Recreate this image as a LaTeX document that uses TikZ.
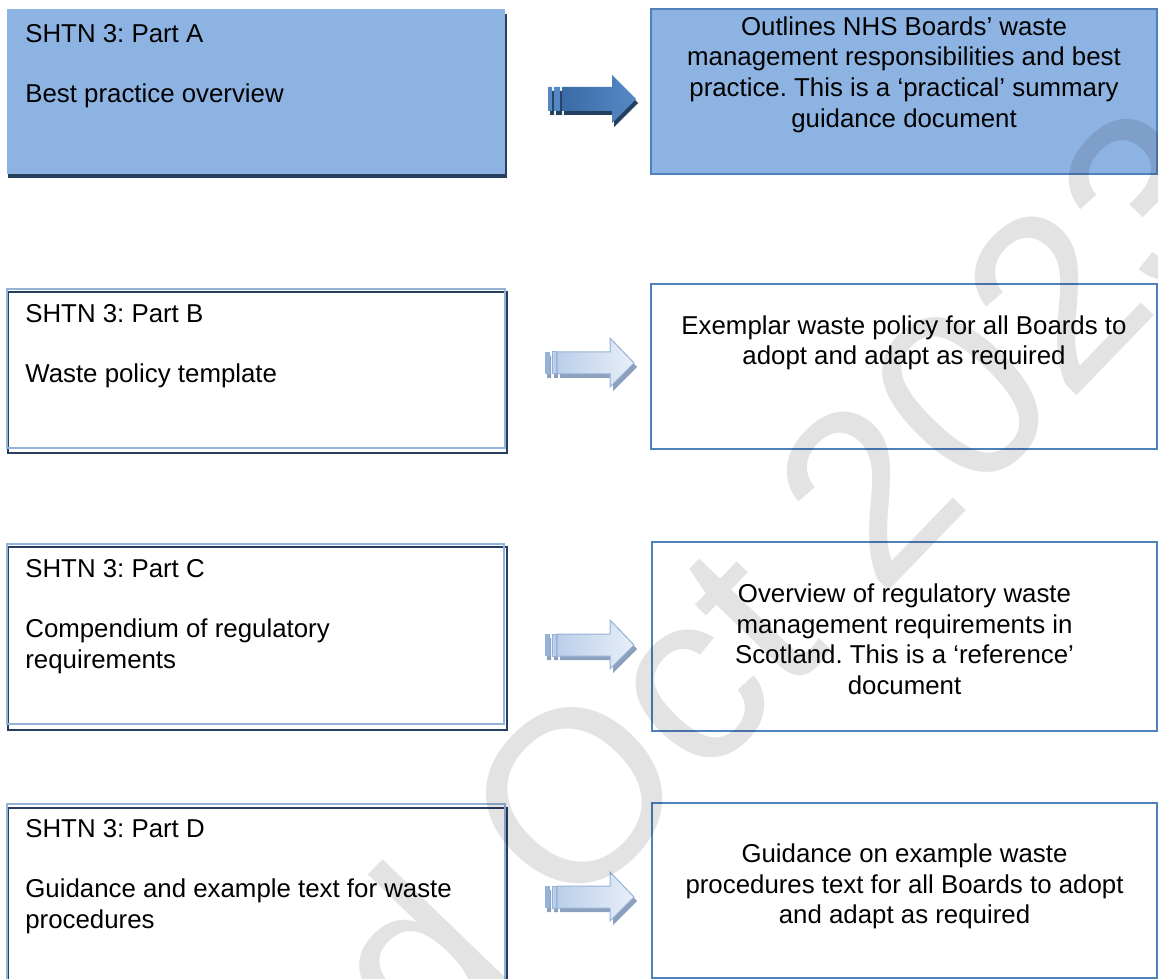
\documentclass[tikz,border=0pt]{standalone}
\usepackage{fontspec}
\setmainfont{Liberation Sans}
\frenchspacing

\definecolor{boxblue}{HTML}{8DB3E2}
\definecolor{edgeblue}{HTML}{4F81BD}
\definecolor{paleedge}{HTML}{95B3D7}
\definecolor{navy}{HTML}{243F60}
\definecolor{arrowdark}{HTML}{3A6BA6}
\definecolor{arrowmid}{HTML}{5589C6}
\definecolor{arrowpale}{HTML}{BACFEA}
\definecolor{arrowlight}{HTML}{E8EFF8}
\definecolor{arrowshade}{HTML}{8C9FBC}

\tikzset{
  partbox/.style={draw=paleedge, line width=0.4mm, anchor=north west, inner sep=0pt},
  sumbox/.style={draw=edgeblue, line width=0.4mm, anchor=north west, inner sep=0pt},
  txt/.style={inner sep=0pt, font=\fontsize{14.7}{17.6}\selectfont},
}

\begin{document}
\begin{tikzpicture}[x=0.2mm, y=-0.2mm]
  \useasboundingbox (0,0) rectangle (1158,979);
  \clip (0,0) rectangle (1158,979);

  % left column: the four parts
  \fill[navy] (8,14) rectangle (507,178);
  \node[partbox, draw=none, fill=boxblue, minimum width=99.6mm, minimum height=33mm] (partA) at (6,8) {};

  \draw[navy, line width=0.4mm] (8,292) rectangle (507,453);
  \node[partbox, minimum width=99.6mm, minimum height=31.8mm] (partB) at (6,288) {};

  \draw[navy, line width=0.4mm] (8,547) rectangle (507,730);
  \node[partbox, minimum width=99.4mm, minimum height=36mm] (partC) at (6,543) {};

  \draw[navy, line width=0.4mm] (8,808) rectangle (507,1000);
  \node[partbox, minimum width=99.6mm, minimum height=39mm] (partD) at (6,803) {};

  % right column: what each part is
  \node[sumbox, fill=boxblue, minimum width=101.2mm, minimum height=33mm] (sumA) at (650,8) {};
  \node[sumbox, minimum width=101.2mm, minimum height=33mm] (sumB) at (650,283) {};
  \node[sumbox, minimum width=101mm, minimum height=37.8mm] (sumC) at (651,541) {};
  \node[sumbox, minimum width=101mm, minimum height=35mm] (sumD) at (651,802) {};

  % texts
  \node[txt, anchor=north west, align=left] (partA-txt) at ([shift={(19,16)}]partA.north west)
    {SHTN 3: Part A\\[16.5pt]Best practice overview};
  \node[txt, anchor=north west, align=left] (partB-txt) at ([shift={(19,16)}]partB.north west)
    {SHTN 3: Part B\\[16.5pt]Waste policy template};
  \node[txt, anchor=north west, align=left] (partC-txt) at ([shift={(19,16)}]partC.north west)
    {SHTN 3: Part C\\[16.5pt]Compendium of regulatory\\requirements};
  \node[txt, anchor=north west, align=left] (partD-txt) at ([shift={(19,16)}]partD.north west)
    {SHTN 3: Part D\\[16.5pt]Guidance and example text for waste\\procedures};

  \node[txt, anchor=north, align=center] (sumA-txt) at ([shift={(0,8)}]sumA.north)
    {Outlines NHS Boards’ waste\\management responsibilities and best\\practice. This is a ‘practical’ summary\\guidance document};
  \node[txt, anchor=north, align=center] (sumB-txt) at ([shift={(0,32)}]sumB.north)
    {Exemplar waste policy for all Boards to\\adopt and adapt as required};
  \node[txt, anchor=north, align=center] (sumC-txt) at ([shift={(0,42)}]sumC.north)
    {Overview of regulatory waste\\management requirements in\\Scotland. This is a ‘reference’\\document};
  \node[txt, anchor=north, align=center] (sumD-txt) at ([shift={(0,41)}]sumD.north)
    {Guidance on example waste\\procedures text for all Boards to adopt\\and adapt as required};

  % dark arrow for part A
  \begin{scope}[shift={(0,99)}]
    \fill[navy] (564,-8) -- (614,-8) -- (614,-20) -- (638,4) -- (614,28) -- (614,16) -- (564,16) -- cycle;
    \fill[navy] (550,-8) rectangle (554,16) (556,-8) rectangle (562,16);
    \shade[left color=arrowdark, right color=arrowmid] (562,-12) -- (612,-12) -- (612,-24) -- (636,0)
      -- (612,24) -- (612,12) -- (562,12) -- cycle;
    \fill[arrowmid] (548,-12) rectangle (552,12) (554,-12) rectangle (560,12);
  \end{scope}

  % pale arrows for parts B, C and D
  \foreach \c in {363,645,897} {
    \begin{scope}[shift={(0,\c)}]
      \fill[arrowshade] (560,-7) -- (613,-7) -- (613,-21) -- (637,4) -- (613,28) -- (613,15) -- (560,15) -- cycle;
      \fill[arrowshade] (547,-7) rectangle (551,15) (554,-7) rectangle (558,15);
      \shade[left color=arrowpale, right color=arrowlight, draw=paleedge, line width=0.2mm]
        (557,-11) -- (610,-11) -- (610,-25) -- (634,0) -- (610,24) -- (610,11) -- (557,11) -- cycle;
      \fill[paleedge] (545,-11) rectangle (550,11);
      \filldraw[fill=arrowpale, draw=paleedge, line width=0.2mm] (552,-11) rectangle (556,11);
    \end{scope}
  }

  % watermark
  \node[font=\fontsize{139}{139}\selectfont, text=black, text opacity=0.11, rotate=46] (stamp) at (780,578) {d Oct 2023};
\end{tikzpicture}
\end{document}
